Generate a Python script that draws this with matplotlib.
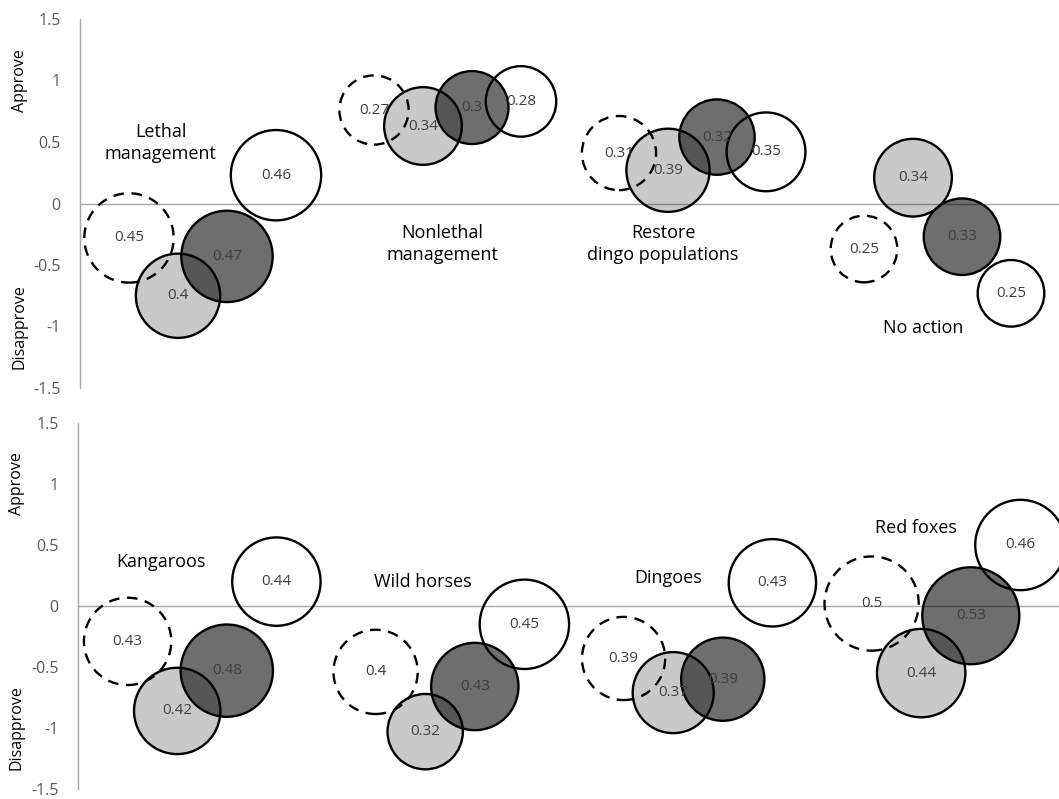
import matplotlib.pyplot as plt

plt.rcParams['font.family'] = ['Open Sans', 'DejaVu Sans']

# top panel: management options
top_groups = ['Lethal\nmanagement', 'Nonlethal\nmanagement', 'Restore\ndingo populations', 'No action']
top_label_xy = [(1.65, 0.49), (7.4, -0.33), (11.9, -0.33), (17.2, -1.01)]
top_dashed_size = [0.45, 0.27, 0.31, 0.25]
top_dashed_y = [-0.28, 0.76, 0.41, -0.37]
top_light_size = [0.4, 0.34, 0.39, 0.34]
top_light_y = [-0.75, 0.63, 0.27, 0.21]
top_dark_size = [0.47, 0.3, 0.32, 0.33]
top_dark_y = [-0.43, 0.78, 0.54, -0.27]
top_white_size = [0.46, 0.28, 0.35, 0.25]
top_white_y = [0.23, 0.83, 0.42, -0.73]

# bottom panel: species
bot_groups = ['Kangaroos', 'Wild horses', 'Dingoes', 'Red foxes']
bot_label_xy = [(1.67, 0.36), (6.95, 0.2), (11.9, 0.23), (16.9, 0.64)]
bot_dashed_size = [0.43, 0.4, 0.39, 0.5]
bot_dashed_y = [-0.29, -0.54, -0.43, 0.02]
bot_light_size = [0.42, 0.32, 0.37, 0.44]
bot_light_y = [-0.86, -1.03, -0.71, -0.55]
bot_dark_size = [0.48, 0.43, 0.39, 0.53]
bot_dark_y = [-0.53, -0.66, -0.6, -0.08]
bot_white_size = [0.44, 0.45, 0.43, 0.46]
bot_white_y = [0.2, -0.15, 0.19, 0.5]

group_x = [1, 6, 11, 16]
SCALE = 9200


def draw_panel(ax, groups, label_xy, series):
    # series: list of (offset, sizes, ys, face, linestyle)
    for off, sizes, ys, face, ls in series:
        xs = [g + off for g in group_x]
        ax.scatter(xs, ys, s=[SCALE * v for v in sizes], facecolors=face,
                   edgecolors='black', linewidths=1.7, linestyles=ls,
                   clip_on=False, zorder=3)
        for x, y, v in zip(xs, ys, sizes):
            ax.text(x, y, f'{v:g}', ha='center', va='center', fontsize=11,
                    color='#404040', zorder=5)
    for name, (lx, ly) in zip(groups, label_xy):
        ax.text(lx, ly, name, ha='center', va='center', fontsize=13,
                color='black', linespacing=1.25)
    ax.set_xlim(0, 20)
    ax.set_ylim(-1.5, 1.5)
    ax.set_yticks([-1.5, -1, -0.5, 0, 0.5, 1, 1.5])
    ax.set_yticklabels(['-1.5', '-1', '-0.5', '0', '0.5', '1', '1.5'])
    ax.tick_params(axis='y', length=0, labelsize=11.5, labelcolor='#595959', pad=14)
    ax.set_xticks([])
    for sp in ['top', 'right']:
        ax.spines[sp].set_visible(False)
    ax.spines['left'].set_color('#a6a6a6')
    ax.spines['bottom'].set_position(('data', 0))
    ax.spines['bottom'].set_color('#a6a6a6')
    ax.spines['left'].set_linewidth(1)
    ax.spines['bottom'].set_linewidth(1)
    ax.spines['left'].set_zorder(1)
    ax.spines['bottom'].set_zorder(1)
    ax.text(-1.23, 1.0, 'Approve', rotation=90, ha='center', va='center',
            fontsize=11.5, color='black')
    ax.text(-1.23, -1.0, 'Disapprove', rotation=90, ha='center', va='center',
            fontsize=11.5, color='black')


dash = (0, (4.5, 3.2))
light = (0, 0, 0, 0.21)
dark = (0, 0, 0, 0.57)

fig = plt.figure(figsize=(10.59, 7.99), dpi=100)
ax1 = fig.add_axes([80 / 1059, 1 - 388 / 799, 980 / 1059, 369 / 799])
ax2 = fig.add_axes([78 / 1059, 1 - 789 / 799, 992 / 1059, 366 / 799])

draw_panel(ax1, top_groups, top_label_xy, [
    (0, top_dashed_size, top_dashed_y, 'none', dash),
    (1, top_light_size, top_light_y, light, 'solid'),
    (2, top_dark_size, top_dark_y, dark, 'solid'),
    (3, top_white_size, top_white_y, 'none', 'solid'),
])
draw_panel(ax2, bot_groups, bot_label_xy, [
    (0, bot_dashed_size, bot_dashed_y, 'none', dash),
    (1, bot_light_size, bot_light_y, light, 'solid'),
    (2, bot_dark_size, bot_dark_y, dark, 'solid'),
    (3, bot_white_size, bot_white_y, 'none', 'solid'),
])

fig.savefig('out.png', dpi=100)
